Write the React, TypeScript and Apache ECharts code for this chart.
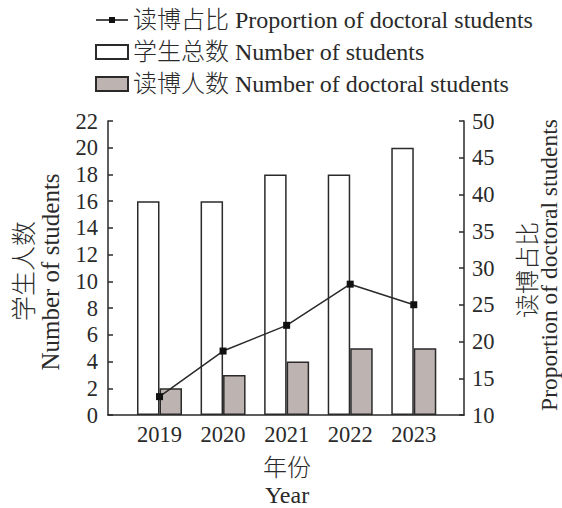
import React, { useEffect, useRef } from "react";
import * as echarts from "echarts";

const years = [2019, 2020, 2021, 2022, 2023];
const totalStudents = [16, 16, 18, 18, 20];
const doctoralStudents = [2, 3, 4, 5, 5];
const doctoralShare = [12.5, 18.7, 22.2, 27.8, 25.0];

const FONT = "'Liberation Serif', 'Times New Roman', 'Noto Sans CJK SC', serif";
const INK = "#2a2a2a";
const LINE_ICON = "path://M0,2.25H13V0H19V2.25H32V3.75H19V6H13V3.75H0Z";

export default function App() {
  const ref = useRef<HTMLDivElement>(null);
  useEffect(() => {
    if (!ref.current) return;
    const chart = echarts.init(ref.current, null, { renderer: "svg" });
    const tick = { fontFamily: FONT, fontSize: 22.5, color: INK };
    const nameText = (text: string, x: number, y: number, size: number, vertical: boolean) => ({
      type: "text",
      x,
      y,
      rotation: vertical ? Math.PI / 2 : 0,
      style: {
        text,
        fill: INK,
        font: `300 ${size}px ${FONT}`,
        lineHeight: size,
        align: "center",
        verticalAlign: "middle",
      },
    });
    chart.setOption({
      animation: false,
      backgroundColor: "#ffffff",
      textStyle: { fontFamily: FONT },
      grid: { left: 108, right: 98, top: 121, bottom: 93, containLabel: false },
      legend: {
        orient: "vertical",
        left: 95,
        top: 8,
        padding: 0,
        itemGap: 8,
        itemWidth: 32,
        itemHeight: 14,
        symbolKeepAspect: true,
        textStyle: { fontFamily: FONT, fontSize: 24, fontWeight: 300, color: INK, lineHeight: 24 },
        data: [
          { name: "读博占比 Proportion of doctoral students", icon: LINE_ICON },
          { name: "学生总数 Number of students", icon: "rect" },
          { name: "读博人数 Number of doctoral students", icon: "rect" },
        ],
      },
      xAxis: {
        type: "value",
        min: 2018.19,
        max: 2023.79,
        splitLine: { show: false },
        axisTick: { show: false },
        axisLine: { show: true, onZero: false, lineStyle: { color: INK, width: 1.5 } },
        axisLabel: {
          customValues: years,
          formatter: (v: number) => String(Math.round(v)),
          ...tick,
          margin: 8,
        },
      },
      yAxis: [
        {
          type: "value",
          min: 0,
          max: 22,
          interval: 2,
          position: "left",
          splitLine: { show: false },
          axisLine: { show: true, lineStyle: { color: INK, width: 1.5 } },
          axisTick: { show: true, inside: true, length: 5, lineStyle: { color: INK, width: 1.5 } },
          axisLabel: { ...tick, margin: 10 },
        },
        {
          type: "value",
          min: 10,
          max: 50,
          interval: 5,
          position: "right",
          splitLine: { show: false },
          axisLine: { show: true, lineStyle: { color: INK, width: 1.5 } },
          axisTick: { show: true, inside: true, length: 5, lineStyle: { color: INK, width: 1.5 } },
          axisLabel: { ...tick, margin: 8 },
        },
      ],
      graphic: [
        nameText("学生人数", 24, 271, 25, true),
        nameText("Number of students", 50, 272, 25, true),
        nameText("读博占比", 528, 270, 24, true),
        nameText("Proportion of doctoral students", 549, 265, 23.5, true),
        nameText("年份", 287, 468, 24, false),
        nameText("Year", 287, 495, 24, false),
      ],
      series: [
        {
          name: "学生总数 Number of students",
          type: "bar",
          yAxisIndex: 0,
          barWidth: 22.5,
          barGap: "0%",
          data: years.map((y, i) => [y, totalStudents[i]]),
          itemStyle: { color: "#ffffff", borderColor: INK, borderWidth: 1.5 },
          z: 2,
        },
        {
          name: "读博人数 Number of doctoral students",
          type: "bar",
          yAxisIndex: 0,
          barWidth: 22.5,
          barGap: "0%",
          data: years.map((y, i) => [y, doctoralStudents[i]]),
          itemStyle: { color: "#bdb3b0", borderColor: INK, borderWidth: 1.5 },
          z: 2,
        },
        {
          name: "读博占比 Proportion of doctoral students",
          type: "line",
          yAxisIndex: 1,
          data: years.map((y, i) => [y, doctoralShare[i]]),
          symbol: "rect",
          symbolSize: 7,
          lineStyle: { color: INK, width: 1.5 },
          itemStyle: { color: "#111111" },
          z: 5,
        },
      ],
    });
    return () => chart.dispose();
  }, []);
  return <div ref={ref} style={{ width: 562, height: 508, position: "absolute", left: 0, top: 0 }} />;
}
